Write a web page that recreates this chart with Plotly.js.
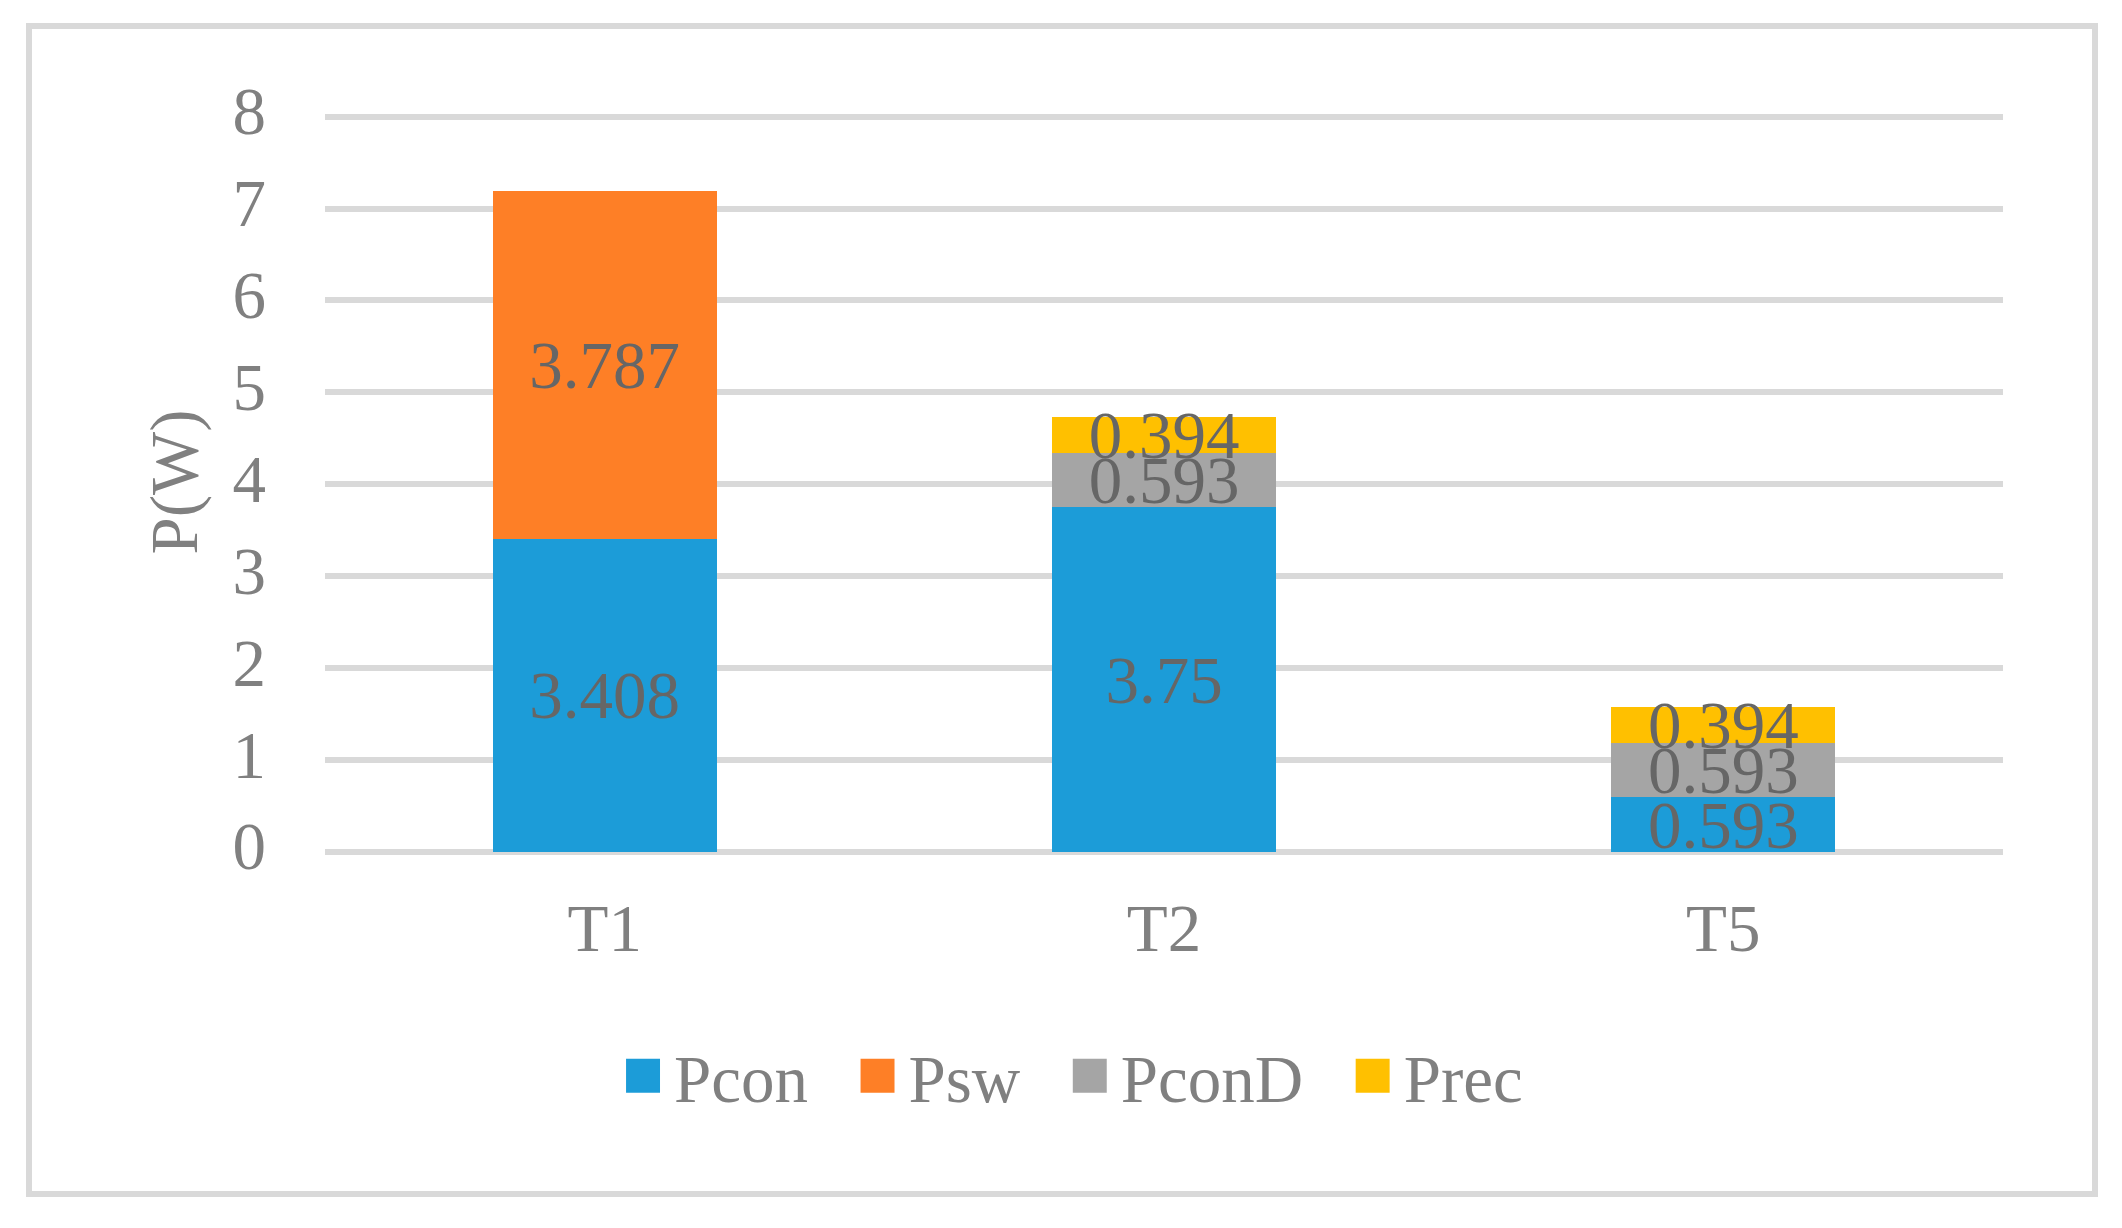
<!DOCTYPE html>
<html>
<head>
<meta charset="utf-8">
<script src="https://cdn.plot.ly/plotly-3.0.1.min.js"></script>
<style>
  html, body { margin: 0; padding: 0; background: #ffffff; }
  #wrap { position: relative; width: 2122px; height: 1228px; }
  #chart { width: 2122px; height: 1228px; }
  #frame { position: absolute; left: 26px; top: 23px; width: 2072px; height: 1174px;
           border: 6px solid #d9d9d9; box-sizing: border-box; pointer-events: none; }
</style>
</head>
<body>
<div id="wrap">
  <div id="chart"></div>
  <div id="frame"></div>
</div>
<script>
const categories = ["T1", "T2", "T5"];
const seriesNames = ["Pcon", "Psw", "PconD", "Prec"];
const Pcon  = [3.408, 3.75, 0.593];
const Psw   = [3.787, null, null];
const PconD = [null, 0.593, 0.593];
const Prec  = [null, 0.394, 0.394];
const yTicks = [0, 1, 2, 3, 4, 5, 6, 7, 8];
const colors = ["#1c9cd8", "#fe7f26", "#a5a5a5", "#ffc000"];

const FONT = "Liberation Serif, Times New Roman, serif";
const values = [Pcon, Psw, PconD, Prec];
const PAD = "\u00a0\u00a0";

const traces = values.map((vals, i) => ({
  type: "bar",
  name: seriesNames[i] + (i < values.length - 1 ? PAD : ""),
  x: categories,
  y: vals,
  marker: { color: colors[i], line: { width: 0 } },
  text: vals.map(v => (v === null ? "" : String(v))),
  textposition: "inside",
  insidetextanchor: "middle",
  textangle: 0,
  constraintext: "none",
  cliponaxis: false,
  textfont: { family: FONT, size: 67, color: "#666666" },
  hoverinfo: "skip"
}));

const layout = {
  width: 2122,
  height: 1228,
  paper_bgcolor: "#ffffff",
  plot_bgcolor: "#ffffff",
  barmode: "stack",
  bargap: 0.6,
  margin: { l: 325, r: 119, t: 111.9, b: 375.5, pad: 0 },
  font: { family: FONT, size: 67, color: "#808080" },
  showlegend: true,
  legend: {
    orientation: "h",
    x: 0.444, xanchor: "center",
    y: -0.303, yanchor: "middle",
    itemwidth: 52,
    font: { family: FONT, size: 67, color: "#808080" },
    traceorder: "normal",
    bgcolor: "rgba(0,0,0,0)"
  },
  xaxis: {
    type: "category",
    categoryorder: "array",
    categoryarray: categories,
    showgrid: false,
    zeroline: false,
    showline: false,
    ticks: "",
    ticklabelstandoff: 31,
    tickfont: { family: FONT, size: 67, color: "#808080" },
    fixedrange: true
  },
  yaxis: {
    range: [0, 8.05],
    tickvals: yTicks,
    ticktext: yTicks.map(String),
    showgrid: true,
    gridcolor: "#d9d9d9",
    gridwidth: 6,
    zeroline: true,
    zerolinecolor: "#d9d9d9",
    zerolinewidth: 6,
    showline: false,
    ticks: "",
    ticklabelstandoff: 58,
    tickfont: { family: FONT, size: 67, color: "#808080" },
    title: { text: "P(W)", font: { family: FONT, size: 67, color: "#808080" }, standoff: 13 },
    fixedrange: true
  }
};

Plotly.newPlot("chart", traces, layout, { staticPlot: true, displayModeBar: false }).then(() => {
  document.querySelectorAll("#chart .legend .legendpoints path").forEach(p => {
    const t = p.getAttribute("transform") || "";
    p.setAttribute("transform", t + " scale(2.83)");
  });
  document.querySelectorAll("#chart .ytick text").forEach(t => {
    const tr = t.getAttribute("transform") || "";
    t.setAttribute("transform", "translate(0,-6) " + tr);
  });
});
</script>
</body>
</html>
